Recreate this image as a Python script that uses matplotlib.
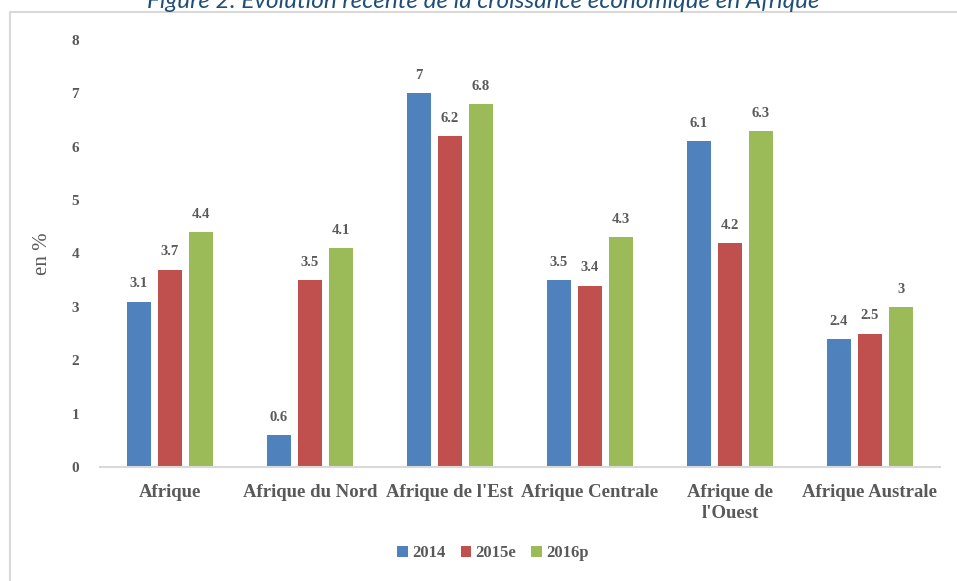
import matplotlib.pyplot as plt
import numpy as np
from matplotlib.patches import Rectangle

plt.rcParams["font.family"] = ["Liberation Serif", "DejaVu Serif"]

regions = ["Afrique", "Afrique du Nord", "Afrique de l'Est", "Afrique Centrale",
           "Afrique de\nl'Ouest", "Afrique Australe"]
series = ["2014", "2015e", "2016p"]
g2014 = [3.1, 0.6, 7, 3.5, 6.1, 2.4]
g2015 = [3.7, 3.5, 6.2, 3.4, 4.2, 2.5]
g2016 = [4.4, 4.1, 6.8, 4.3, 6.3, 3]
colors = ["#4F81BD", "#C0504D", "#9BBB59"]

grey = "#595959"

fig = plt.figure(figsize=(9.57, 5.81), dpi=100)
ax = fig.add_axes([100 / 957, 1 - 467 / 581, 840 / 957, 427 / 581])

x = np.arange(len(regions))
width = 0.171
step = 0.221
for i, (vals, name) in enumerate(zip([g2014, g2015, g2016], series)):
    bars = ax.bar(x + (i - 1) * step, vals, width, color=colors[i], label=name)
    for b, v in zip(bars, vals):
        ax.annotate(f"{v:g}", (b.get_x() + b.get_width() / 2, v),
                    xytext=(0, 8), textcoords="offset points", ha="center",
                    va="bottom", fontsize=10.5, fontweight="bold", color=grey)

ax.set_xlim(-0.5, 5.5)
ax.set_ylim(0, 8)
ax.set_xticks(x)
ax.set_xticklabels(regions, fontsize=13.5, fontweight="bold", color=grey,
                   linespacing=1.3)
ax.set_yticks(range(9))
ax.set_yticklabels([str(t) for t in range(9)], fontsize=11,
                   fontweight="bold", color=grey)
ax.tick_params(length=0)
ax.tick_params(axis="y", pad=15)
ax.tick_params(axis="x", pad=12)
for s in ["top", "right", "left"]:
    ax.spines[s].set_visible(False)
ax.spines["bottom"].set_color("#d9d9d9")
ax.spines["bottom"].set_linewidth(1.5)

ax.set_ylabel("en %", fontsize=15, color=grey, labelpad=14)

leg = fig.legend(loc="center", bbox_to_anchor=(493 / 957, 1 - 553 / 581),
                 ncol=3, frameon=False, handlelength=0.65, handleheight=0.65,
                 handletextpad=0.25, columnspacing=0.9,
                 prop={"weight": "bold", "size": 12})
for t in leg.get_texts():
    t.set_color(grey)

# border of the chart area
fig.patches.append(Rectangle((9.5 / 957, -0.05), 1.0, 1 - 11.5 / 581 + 0.05,
                             transform=fig.transFigure, fill=False,
                             edgecolor="#d9d9d9", linewidth=1.5))

# title, cut off at the top of the image
fig.text(483 / 957, 1 - 8 / 581,
         "Figure 2: Evolution récente de la croissance économique en Afrique",
         ha="center", va="baseline", fontsize=17.5, style="italic",
         color="#1F4E79", family=["Lato", "DejaVu Sans"])

fig.savefig("out.png", dpi=100)
